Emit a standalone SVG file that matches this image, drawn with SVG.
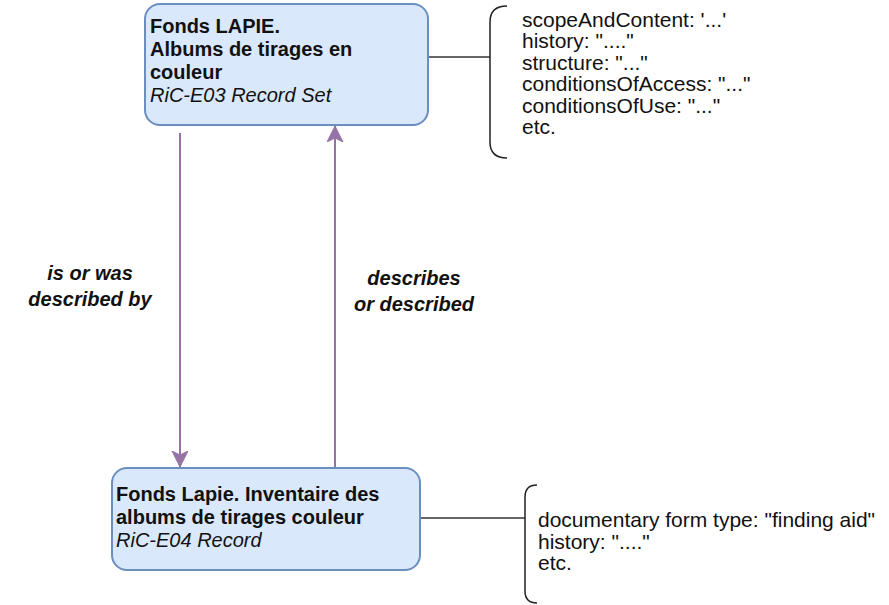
<svg xmlns="http://www.w3.org/2000/svg" width="889" height="605" viewBox="0 0 889 605">
  <style>
    .box { fill: #dae8fc; stroke: #6c8ebf; stroke-width: 2; }
    .t { font-family: "Liberation Sans", Arial, sans-serif; font-size: 20px; fill: #111; }
    .n { font-size: 21px; }
    .b { font-weight: bold; }
    .i { font-style: italic; }
    .lbl { font-family: "Liberation Sans", Arial, sans-serif; font-size: 20px; font-weight: bold; font-style: italic; fill: #111; text-anchor: middle; }
    .rel { stroke: #9673a6; stroke-width: 2; fill: none; }
    .link { stroke: #333; stroke-width: 1.5; fill: none; }
    .brk { stroke: #222; stroke-width: 1.5; fill: none; }
  </style>
  <defs>
    <marker id="arr" markerUnits="userSpaceOnUse" markerWidth="18" markerHeight="18" refX="16" refY="8" orient="auto">
      <path d="M0,0 L16,8 L0,16 L4,8 Z" fill="#9673a6" stroke="#9673a6" stroke-width="1"/>
    </marker>
  </defs>
  <rect width="889" height="605" fill="#ffffff"/>

  <g id="connectors">
    <line class="rel" x1="180" y1="133" x2="180" y2="467" marker-end="url(#arr)"/>
    <line class="rel" x1="335" y1="468" x2="335" y2="126" marker-end="url(#arr)"/>
    <line class="link" x1="428" y1="57" x2="490" y2="57"/>
    <line class="link" x1="420" y1="518" x2="525" y2="518" stroke="#555"/>
    <text class="lbl" x="90" y="280">is or was</text>
    <text class="lbl" x="90" y="306">described by</text>
    <text class="lbl" x="414" y="285">describes</text>
    <text class="lbl" x="414" y="311">or described</text>
  </g>

  <g id="recordSet">
    <rect class="box" x="145" y="4" width="283" height="121" rx="15" ry="15"/>
    <text class="t b" x="150" y="33">Fonds LAPIE.</text>
    <text class="t b" x="150" y="56">Albums de tirages en</text>
    <text class="t b" x="150" y="79">couleur</text>
    <text class="t i" x="150" y="102">RiC-E03 Record Set</text>
  </g>

  <g id="record">
    <rect class="box" x="112" y="468" width="308" height="102" rx="15" ry="15"/>
    <text class="t b" x="116" y="501">Fonds Lapie. Inventaire des</text>
    <text class="t b" x="116" y="524">albums de tirages couleur</text>
    <text class="t i" x="116" y="547">RiC-E04 Record</text>
  </g>

  <g id="recordSetProps">
    <path class="brk" d="M507,6 Q490,6 490,22 L490,142 Q490,158 507,158"/>
    <text class="t n" x="522" y="26.5">scopeAndContent: '...'</text>
    <text class="t n" x="522" y="48">history: "...."</text>
    <text class="t n" x="522" y="69.5">structure: "..."</text>
    <text class="t n" x="522" y="91">conditionsOfAccess: "..."</text>
    <text class="t n" x="522" y="112.5">conditionsOfUse: "..."</text>
    <text class="t n" x="522" y="134">etc.</text>
  </g>

  <g id="recordProps">
    <path class="brk" d="M537,485 Q525,485 525,497 L525,591 Q525,603 537,603"/>
    <text class="t n" x="538" y="527">documentary form type: "finding aid"</text>
    <text class="t n" x="538" y="548.5">history: "...."</text>
    <text class="t n" x="538" y="570">etc.</text>
  </g>
</svg>
